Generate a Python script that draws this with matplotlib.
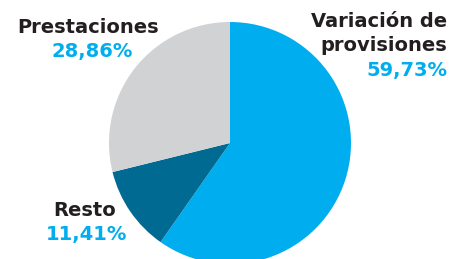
import matplotlib
matplotlib.use('Agg')
import matplotlib.pyplot as plt

W, H = 467, 259

# slice order: clockwise from 12 o'clock
labels = ['Variación de\nprovisiones', 'Resto', 'Prestaciones']
shares = [59.73, 11.41, 28.86]
share_labels = ['59,73%', '11,41%', '28,86%']
colors = ['#00AEEF', '#006A93', '#D1D2D4']

DARK = '#231F20'
BLUE = '#00AEEF'
FONT = 'DejaVu Sans'

fig = plt.figure(figsize=(W / 100, H / 100), dpi=100)
ax = fig.add_axes([0, 0, 1, 1])

# pie in pixel coords (y measured from bottom)
ax.pie(shares, colors=colors, startangle=90, counterclock=False,
       center=(230, H - 143), radius=121, frame=True,
       wedgeprops=dict(linewidth=0))
ax.set_xlim(0, W)
ax.set_ylim(0, H)
ax.set_aspect('equal')
ax.axis('off')


def txt(x, y, s, color, ha):
    ax.text(x, H - y, s, color=color, ha=ha, va='baseline',
            fontsize=14, fontweight='bold', family=FONT)


# Prestaciones
txt(88, 33, labels[2], DARK, 'center')
txt(92, 57, share_labels[2], BLUE, 'center')

# Variación de provisiones
name = labels[0].split('\n')
txt(447, 27, name[0], DARK, 'right')
txt(447, 51, name[1], DARK, 'right')
txt(447, 76, share_labels[0], BLUE, 'right')

# Resto
txt(85, 216, labels[1], DARK, 'center')
txt(86, 240, share_labels[1], BLUE, 'center')

fig.savefig('out.png', dpi=100)
